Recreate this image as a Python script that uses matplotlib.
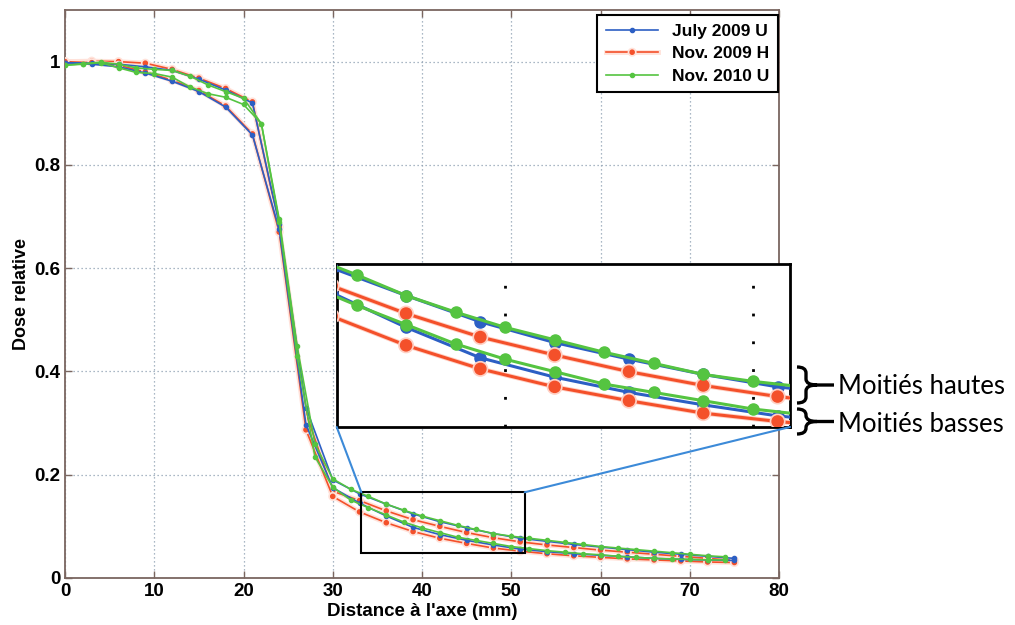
import matplotlib
matplotlib.use("Agg")
import matplotlib.pyplot as plt
from matplotlib.patches import ConnectionPatch, Rectangle, PathPatch
from matplotlib.path import Path
import matplotlib.patheffects as pe

# ---------------- data ----------------
x_br = [0, 3, 6, 9, 12, 15, 18, 21, 24, 27, 30, 33, 36, 39, 42, 45, 48, 51, 54, 57, 60, 63, 66, 69, 72, 75]
blue_up = [0.998, 0.997, 0.995, 0.990, 0.983, 0.966, 0.945, 0.920, 0.685, 0.330, 0.190, 0.163, 0.143, 0.124,
           0.109, 0.097, 0.086, 0.077, 0.071, 0.065, 0.060, 0.055, 0.050, 0.046, 0.042, 0.038]
blue_lo = [0.998, 0.995, 0.990, 0.978, 0.962, 0.942, 0.912, 0.858, 0.675, 0.297, 0.175, 0.145, 0.120, 0.098,
           0.084, 0.073, 0.064, 0.056, 0.051, 0.047, 0.044, 0.041, 0.038, 0.036, 0.035, 0.034]
red_up = [1.000, 1.001, 1.000, 0.997, 0.985, 0.968, 0.948, 0.922, 0.680, 0.320, 0.168, 0.150, 0.130, 0.113,
          0.100, 0.088, 0.078, 0.070, 0.064, 0.059, 0.054, 0.050, 0.046, 0.042, 0.038, 0.034]
red_lo = [1.000, 0.998, 0.993, 0.980, 0.964, 0.944, 0.914, 0.860, 0.670, 0.287, 0.158, 0.128, 0.107, 0.090,
          0.077, 0.067, 0.058, 0.052, 0.047, 0.043, 0.040, 0.037, 0.035, 0.033, 0.031, 0.030]

x_g = [0, 2, 4, 6, 8, 10, 12, 14, 16, 18, 20, 22, 24, 26, 28, 30, 32, 34, 36, 38,
       40, 42, 44, 46, 48, 50, 52, 54, 56, 58, 60, 62, 64, 66, 68, 70, 72, 74]
green_up = [0.993, 0.996, 0.999, 0.995, 0.988, 0.985, 0.983, 0.972, 0.955, 0.942, 0.929, 0.880, 0.695, 0.450,
            0.260, 0.192, 0.172, 0.158, 0.143, 0.131, 0.120, 0.111, 0.102, 0.094, 0.086, 0.081, 0.077, 0.073,
            0.069, 0.065, 0.061, 0.058, 0.055, 0.052, 0.049, 0.046, 0.043, 0.041]
green_lo = [0.993, 0.995, 0.998, 0.988, 0.979, 0.977, 0.970, 0.951, 0.938, 0.931, 0.917, 0.880, 0.690, 0.430,
            0.235, 0.176, 0.151, 0.136, 0.122, 0.108, 0.097, 0.088, 0.079, 0.073, 0.067, 0.061, 0.057, 0.053,
            0.050, 0.047, 0.045, 0.042, 0.040, 0.038, 0.037, 0.036, 0.035, 0.035]

labels = ["July 2009 U", "Nov. 2009 H", "Nov. 2010 U"]
x_ticks = [0, 10, 20, 30, 40, 50, 60, 70, 80]
y_ticks = [0, 0.2, 0.4, 0.6, 0.8, 1.0]
y_ticklabels = ["0", "0.2", "0.4", "0.6", "0.8", "1"]
zoom_x = (33.2, 51.5)
zoom_y = (0.048, 0.166)

# ---------------- style ----------------
C_BLUE = "#2c5fc4"
C_RED = "#f4502a"
C_GREEN = "#55c441"
SPINE = "#7a6660"
FONT = ["Liberation Sans", "DejaVu Sans"]

W, H = 1015, 625
fig = plt.figure(figsize=(W / 100, H / 100), dpi=100)
fig.patch.set_facecolor("white")


def fr(px, py):
    return px / W, 1 - py / H


ax = fig.add_axes([65 / W, 1 - 578 / H, 714 / W, 568 / H])
series = {
    "blue": (x_br, blue_up, blue_lo, C_BLUE, None, 0),
    "red": (x_br, red_up, red_lo, C_RED, "#ffe2da", 1),
    "green": (x_g, green_up, green_lo, C_GREEN, None, 2),
}
draw_order = ["red", "blue", "green"]
handles = {}
for key in draw_order:
    xs, yu, yl, col, halo, idx = series[key]
    for k, ys in enumerate((yu, yl)):
        ln, = ax.plot(xs, ys, color=col, lw=1.2, marker="o", ms=3.0, mec=col, mfc=col, zorder=3)
        if halo:
            ln.set_path_effects([pe.withStroke(linewidth=3.5, foreground=halo)])
        if k == 0:
            handles[idx] = ln

ax.set_xlim(0, 80)
ax.set_ylim(0, 1.1)
ax.set_xticks(x_ticks)
ax.set_yticks(y_ticks)
ax.set_yticklabels(y_ticklabels)
ax.tick_params(direction="in", length=5, width=1, color=SPINE, top=True, right=True,
               labelsize=13.5, pad=3.5)
for lab in ax.get_xticklabels() + ax.get_yticklabels():
    lab.set_fontweight("bold")
    lab.set_family(FONT)
for s in ax.spines.values():
    s.set_color(SPINE)
    s.set_linewidth(1.3)
ax.grid(True, linestyle=(0, (1, 2.2)), color="#8fa0b2", lw=0.9)
ax.set_xlabel("Distance à l'axe (mm)", fontsize=13.5, fontweight="bold", family=FONT, labelpad=2)
ax.set_ylabel("Dose relative", fontsize=13, fontweight="bold", family=FONT, labelpad=3)

leg = ax.legend([handles[i] for i in range(3)], labels,
                loc="upper right", bbox_to_anchor=fr(778, 15), bbox_transform=fig.transFigure,
                borderaxespad=0, fancybox=False, framealpha=1, edgecolor="black",
                prop={"family": FONT, "weight": "bold", "size": 12.5}, numpoints=1,
                handlelength=3.0, labelspacing=0.42, borderpad=0.5, handletextpad=0.8)
leg.get_frame().set_linewidth(1.5)

# zoom rectangle on main axes
ax.add_patch(Rectangle((zoom_x[0], zoom_y[0]), zoom_x[1] - zoom_x[0], zoom_y[1] - zoom_y[0],
                       fill=False, ec="black", lw=1.5, zorder=4))

# ---------------- inset ----------------
l, t = 336.7, 263.7
r, b = 790, 427
axins = fig.add_axes([l / W, 1 - b / H, (r - l) / W, (b - t) / H])
axins.set_facecolor("white")
for key in ["blue", "red", "green"]:
    xs, yu, yl, col, halo, idx = series[key]
    for ys in (yu, yl):
        ln, = axins.plot(xs, ys, color=col, lw=2.2, marker="o", ms=8.0, mec=col, mfc=col, zorder=3)
        if halo:
            ln.set_path_effects([pe.withStroke(linewidth=3.5, foreground="#ffd0c4")])
axins.set_xlim(*zoom_x)
axins.set_ylim(*zoom_y)
axins.set_xticks([])
axins.set_yticks([])
for xv in (40, 50):
    axins.axvline(xv, color="black", lw=2.0, linestyle=(0, (1, 9)), zorder=1)
for s in axins.spines.values():
    s.set_color("black")
    s.set_linewidth(2.0)

for xa, xb in ((zoom_x[0], 0), (zoom_x[1], 1)):
    con = ConnectionPatch(xyA=(xa, zoom_y[1]), coordsA=ax.transData,
                          xyB=(xb, 0), coordsB=axins.transAxes,
                          color="#3c8ad8", lw=1.5, zorder=2)
    fig.add_artist(con)


# ---------------- braces and notes ----------------
def brace(ytop, ybot, x0=797, x1=806, x2=817, x3=834, rr=6):
    ym = (ytop + ybot) / 2
    pts = [(x0, ytop), (x1, ytop), (x1, ytop + rr), (x1, ym - rr), (x1, ym), (x2, ym),
           (x2, ym), (x1, ym), (x1, ym + rr), (x1, ybot - rr), (x1, ybot), (x0, ybot),
           (x2, ym), (x3, ym)]
    codes = [Path.MOVETO, Path.CURVE3, Path.CURVE3, Path.LINETO, Path.CURVE3, Path.CURVE3,
             Path.MOVETO, Path.CURVE3, Path.CURVE3, Path.LINETO, Path.CURVE3, Path.CURVE3,
             Path.MOVETO, Path.LINETO]
    verts = [fr(px, py) for px, py in pts]
    p = PathPatch(Path(verts, codes), transform=fig.transFigure, fill=False, ec="black",
                  lw=2.4, capstyle="butt", joinstyle="round")
    fig.add_artist(p)


brace(367, 403)
brace(409, 434)
fig.text(*fr(838, 386), "Moitiés hautes", fontsize=18.5, family=["Lato", "DejaVu Sans"],
         va="center", ha="left", color="black")
fig.text(*fr(838, 424), "Moitiés basses", fontsize=18.5, family=["Lato", "DejaVu Sans"],
         va="center", ha="left", color="black")

fig.savefig("out.png", dpi=100, facecolor="white")
